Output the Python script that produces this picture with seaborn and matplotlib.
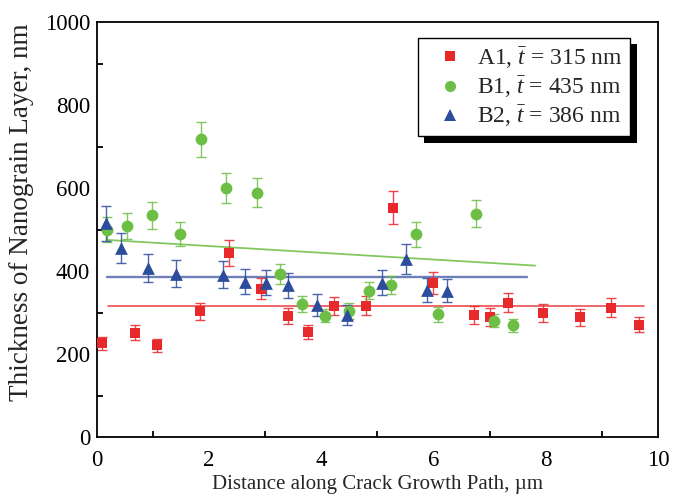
import numpy as np
import pandas as pd
import matplotlib
matplotlib.use("Agg")
import matplotlib.pyplot as plt
from matplotlib.patches import Rectangle
from matplotlib.ticker import MultipleLocator
import seaborn as sns

# Nanograin layer thickness along the crack growth path
a1_x = [0.09, 0.67, 1.07, 1.84, 2.35, 2.93, 3.40, 3.77, 4.23, 4.80,
        5.27, 5.99, 6.72, 7.01, 7.32, 7.95, 8.61, 9.17, 9.67]
a1_y = [226, 251, 221, 303, 444, 357, 292, 253, 315, 316,
        553, 371, 294, 289, 324, 298, 288, 312, 271]
a1_err = [16, 18, 16, 21, 31, 25, 20, 18, 22, 23,
          39, 27, 21, 21, 23, 22, 21, 22, 19]

b1_x = [0.17, 0.54, 0.98, 1.48, 1.86, 2.30, 2.86, 3.26, 3.66, 4.06,
        4.49, 4.85, 5.24, 5.69, 6.07, 6.76, 7.07, 7.41]
b1_y = [499, 509, 534, 490, 717, 600, 589, 393, 320, 292,
        304, 353, 367, 488, 296, 538, 280, 269]
b1_err = [30, 31, 33, 29, 43, 36, 35, 24, 19, 16,
          19, 21, 22, 30, 18, 32, 16, 16]

b2_x = [0.16, 0.43, 0.91, 1.41, 2.25, 2.63, 3.01, 3.40, 3.93, 4.46,
        5.08, 5.50, 5.88, 6.24]
b2_y = [515, 455, 407, 394, 391, 374, 372, 366, 318, 293,
        372, 429, 354, 353]
b2_err = [42, 36, 33, 32, 32, 30, 30, 30, 26, 24,
          30, 35, 29, 28]

# Mean thickness of each sample and extent of its reference line
mean_t = {"A1": 315, "B1": 435, "B2": 386}
a1_line_x = [0.2, 9.75]
b2_line_x = [0.17, 7.67]
# Trend of B1 along the path
b1_line_x = [0.17, 7.81]
b1_line_y = [475, 413]

x_ticks = [0, 2, 4, 6, 8, 10]
y_ticks = [0, 200, 400, 600, 800, 1000]

RED = "#E8292B"
GREEN = "#6CBE45"
BLUE = "#2C4C9C"

sns.set_theme(style="white")
plt.rcParams.update({
    "font.family": ["Liberation Serif", "DejaVu Serif"],
    "mathtext.fontset": "custom",
    "mathtext.rm": "Liberation Serif",
    "mathtext.it": "Liberation Serif:italic",
    "axes.edgecolor": "black",
    "axes.linewidth": 1.3,
})

fig = plt.figure(figsize=(6.73, 4.99), dpi=100)
ax = fig.add_axes([0.1441, 0.1242, 0.8336, 0.8317])

series = [
    ("A1", a1_x, a1_y, a1_err, RED, "s", 60),
    ("B1", b1_x, b1_y, b1_err, GREEN, "o", 72),
    ("B2", b2_x, b2_y, b2_err, BLUE, "^", 84),
]
legend_size = {"s": 7.0, "o": 8.0, "^": 8.8}

# Reference lines
sns.lineplot(x=a1_line_x, y=[mean_t["A1"]] * 2, ax=ax, color=RED,
             lw=1.1, alpha=0.9, zorder=1)
sns.lineplot(x=b2_line_x, y=[mean_t["B2"]] * 2, ax=ax, color="#5569AE",
             lw=1.7, alpha=0.85, zorder=1)
sns.lineplot(x=b1_line_x, y=b1_line_y, ax=ax, color="#74C24E",
             lw=1.3, alpha=0.9, zorder=1)

handles = []
for name, xs, ys, es, col, mk, sz in series:
    ax.errorbar(xs, ys, yerr=es, fmt="none", ecolor=col, elinewidth=1.0,
                capsize=3.8, capthick=1.0, alpha=0.85, zorder=2)
    df = pd.DataFrame({"x": xs, "y": ys})
    sns.scatterplot(data=df, x="x", y="y", ax=ax, color=col, marker=mk,
                    s=sz, linewidth=0, zorder=3)
    h = plt.Line2D([], [], ls="none", marker=mk, color=col,
                   markersize=legend_size[mk], markeredgewidth=0)
    handles.append((h, rf"{name}, $\bar{{t}}$ = {mean_t[name]} nm"))

ax.set_xlim(0, 10)
ax.set_ylim(0, 1000)
ax.set_xticks(x_ticks)
ax.set_yticks(y_ticks)
ax.xaxis.set_minor_locator(MultipleLocator(1))
ax.yaxis.set_minor_locator(MultipleLocator(100))
ax.tick_params(which="both", direction="in", top=False, right=False,
               colors="black", labelsize=16.5, width=1.3)
ax.tick_params(which="major", length=6, pad=5)
ax.tick_params(axis="x", which="major", pad=9)
ax.tick_params(which="minor", length=4, bottom=True, left=True)
for s in ax.spines.values():
    s.set_visible(True)
    s.set_color("black")

ax.set_xlabel("Distance along Crack Growth Path, µm", fontsize=15,
              labelpad=3)
ax.set_ylabel("Thickness of Nanograin Layer, nm", fontsize=19.5)
ax.yaxis.set_label_coords(-0.112, 0.542)

leg = ax.legend([h for h, _ in handles], [t for _, t in handles],
                loc="upper left", bbox_to_anchor=(0.5717, 0.962),
                borderaxespad=0, frameon=True, fancybox=False,
                fontsize=17, handlelength=2.1, handletextpad=0.13,
                labelspacing=0.14, borderpad=0.3)
leg.get_frame().set_edgecolor("black")
leg.get_frame().set_linewidth(1.0)
leg.get_frame().set_alpha(1)

# Solid drop shadow behind the legend box
fig.canvas.draw()
bb = leg.get_window_extent().transformed(fig.transFigure.inverted())
dx, dy = 6.5 / fig.bbox.width, 6.5 / fig.bbox.height
ax.add_patch(Rectangle((bb.x0 + dx, bb.y0 - dy), bb.width, bb.height,
                       transform=fig.transFigure, facecolor="black",
                       edgecolor="none", zorder=4.9, clip_on=False))

fig.savefig("out.png", dpi=100)
